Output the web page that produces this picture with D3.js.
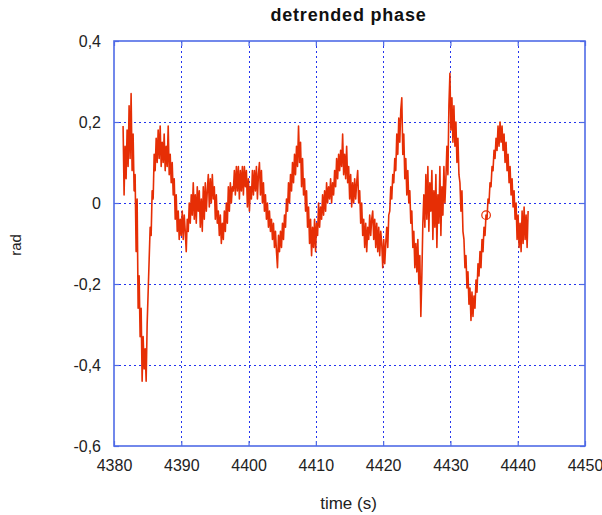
<!DOCTYPE html>
<html>
<head>
<meta charset="utf-8">
<script src="https://cdn.jsdelivr.net/npm/d3@7"></script>
<style>
  html, body { margin: 0; padding: 0; background: #fff; }
  svg { display: block; }
  text { font-family: "Liberation Sans", Arial, sans-serif; }
</style>
</head>
<body>
<svg id="chart" width="602" height="515"></svg>
<script>
// Sampling grid of the phase trace
const t0 = 4381.35;
const dt = 0.149;

// Detrended phase samples (rad)
const phase = [
  0.19, 0.02, 0.14, 0.06, 0.18, 0.09, 0.24, 0.11, 0.27, 0.08,
  0.17, 0.03, 0.07, -0.12, 0.01, -0.26, -0.18, -0.33, -0.26, -0.44,
  -0.33, -0.41, -0.36, -0.44, -0.30, -0.22, -0.14, -0.06, -0.08, 0.03,
  0.01, 0.12, 0.08, 0.16, 0.10, 0.18, 0.11, 0.19, 0.09, 0.15,
  0.10, 0.17, 0.08, 0.14, 0.09, 0.19, 0.07, 0.12, 0.05, 0.10,
  0.02, 0.06, -0.04, 0.02, -0.07, -0.02, -0.09, -0.04, -0.08, -0.02,
  -0.09, -0.03, -0.07, -0.12, -0.04, -0.07, 0.00, -0.05, 0.02, -0.03,
  0.05, -0.04, 0.02, -0.05, 0.04, -0.02, 0.03, -0.06, 0.01, -0.07,
  0.04, -0.04, 0.05, -0.02, 0.03, 0.07, -0.01, 0.06, 0.00, 0.07,
  0.01, 0.04, -0.04, 0.02, -0.05, -0.02, -0.08, -0.03, -0.10, -0.05,
  -0.09, -0.02, -0.07, 0.00, -0.05, 0.04, -0.02, 0.05, 0.00, 0.04,
  0.03, 0.08, 0.02, 0.09, 0.03, 0.09, 0.01, 0.08, 0.03, 0.09,
  0.02, 0.09, 0.04, 0.08, -0.01, 0.06, -0.02, 0.04, 0.01, 0.08,
  0.02, 0.08, 0.03, 0.09, 0.01, 0.07, 0.10, 0.02, 0.08, 0.00,
  0.05, -0.02, 0.02, -0.04, 0.00, -0.06, -0.02, -0.07, -0.04, -0.09,
  -0.05, -0.11, -0.07, -0.12, -0.16, -0.08, -0.12, -0.07, -0.11, -0.05,
  -0.09, -0.03, -0.06, 0.01, -0.02, 0.05, 0.00, 0.07, 0.03, 0.10,
  0.05, 0.12, 0.07, 0.14, 0.09, 0.19, 0.10, 0.15, 0.04, 0.11,
  0.02, 0.06, -0.02, 0.03, -0.06, -0.01, -0.10, -0.04, -0.13, -0.06,
  -0.11, -0.04, -0.12, -0.05, -0.08, 0.00, -0.06, -0.01, -0.04, 0.02,
  -0.03, 0.03, -0.02, 0.05, 0.00, 0.04, 0.01, 0.06, 0.00, 0.05,
  0.02, 0.08, 0.04, 0.11, 0.06, 0.12, 0.08, 0.13, 0.09, 0.17,
  0.07, 0.12, 0.06, 0.14, 0.05, 0.09, 0.01, 0.07, -0.01, 0.05,
  0.00, 0.06, 0.01, 0.05, 0.08, 0.00, 0.03, -0.05, 0.00, -0.08,
  -0.04, -0.11, -0.05, -0.12, -0.06, -0.09, -0.03, -0.08, -0.04, -0.02,
  -0.09, -0.04, -0.11, -0.05, -0.12, -0.06, -0.13, -0.07, -0.10, -0.16,
  -0.09, -0.15, -0.10, -0.06, -0.11, -0.03, -0.02, 0.04, 0.01, 0.07,
  0.05, 0.11, 0.08, 0.17, 0.12, 0.21, 0.15, 0.23, 0.26, 0.12,
  0.17, 0.06, 0.11, 0.02, 0.08, 0.00, 0.03, -0.05, -0.02, -0.11,
  -0.07, -0.16, -0.10, -0.17, -0.09, -0.20, -0.13, -0.28, -0.18, -0.05,
  0.02, -0.06, 0.07, -0.04, 0.09, -0.07, 0.05, -0.02, 0.08, -0.09,
  0.03, -0.06, 0.07, -0.11, 0.02, -0.05, 0.09, -0.08, 0.04, -0.03,
  0.09, 0.00, 0.06, 0.14, 0.07, 0.24, 0.32, 0.18, 0.26, 0.15,
  0.24, 0.14, 0.20, 0.10, 0.16, 0.07, 0.05, -0.02, 0.03, -0.07,
  -0.09, -0.16, -0.13, -0.21, -0.17, -0.25, -0.21, -0.29, -0.22, -0.28,
  -0.23, -0.26, -0.19, -0.22, -0.15, -0.18, -0.12, -0.16, -0.09, -0.12,
  -0.06, -0.08, -0.03, -0.04, 0.01, 0.00, 0.05, 0.04, 0.09, 0.08,
  0.13, 0.11, 0.16, 0.13, 0.19, 0.14, 0.20, 0.15, 0.19, 0.13,
  0.17, 0.10, 0.15, 0.08, 0.12, 0.05, 0.09, 0.02, 0.06, -0.01,
  0.03, -0.04, 0.00, -0.09, -0.03, -0.11, -0.05, -0.12, -0.02, -0.10,
  -0.01, -0.09, -0.03, -0.11, -0.02
];

// Highlighted sample
const markerTime = [4435.3];
const markerPhase = [-0.03];

// Axis ticks
const xTicks = [4380, 4390, 4400, 4410, 4420, 4430, 4440, 4450];
const yTicks = [-0.6, -0.4, -0.2, 0, 0.2, 0.4];

const title = "detrended phase";
const xLabel = "time (s)";
const yLabel = "rad";

const series = phase.map((v, i) => ({ t: t0 + i * dt, v }));

const svg = d3.select("#chart");
const plot = { left: 114, top: 41, right: 585, bottom: 446 };

const x = d3.scaleLinear().domain([4380, 4450]).range([plot.left, plot.right]);
const y = d3.scaleLinear().domain([-0.6, 0.4]).range([plot.bottom, plot.top]);

svg.append("rect").attr("width", 602).attr("height", 515).attr("fill", "#fff");

const gridColor = "#2233ee";
const frameColor = "#4f6be6";
const lineColor = "#e62e05";

// Dotted grid
const grid = svg.append("g");
grid.selectAll("line.gx").data(xTicks.slice(1, -1)).join("line")
  .attr("x1", d => Math.round(x(d)) + 0.5).attr("x2", d => Math.round(x(d)) + 0.5)
  .attr("y1", plot.top).attr("y2", plot.bottom)
  .attr("stroke", gridColor).attr("stroke-width", 1).attr("stroke-dasharray", "2,3");
grid.selectAll("line.gy").data(yTicks.slice(1, -1)).join("line")
  .attr("x1", plot.left).attr("x2", plot.right)
  .attr("y1", d => Math.round(y(d)) + 0.5).attr("y2", d => Math.round(y(d)) + 0.5)
  .attr("stroke", gridColor).attr("stroke-width", 1).attr("stroke-dasharray", "2,3");

// Axes with inward ticks; decimal comma and a plain hyphen for negatives
const fmt = d => d === 0 ? "0" : d3.format(".1f")(d).replace(".", ",").replace("\u2212", "-");

const xAxis = svg.append("g").attr("transform", `translate(0,${plot.bottom})`)
  .call(d3.axisBottom(x).tickValues(xTicks).tickSize(-5).tickPadding(14).tickFormat(d3.format("d")));
const xAxisTop = svg.append("g").attr("transform", `translate(0,${plot.top})`)
  .call(d3.axisTop(x).tickValues(xTicks).tickSize(-5).tickFormat(""));
const yAxis = svg.append("g").attr("transform", `translate(${plot.left},0)`)
  .call(d3.axisLeft(y).tickValues(yTicks).tickSize(-5).tickPadding(13).tickFormat(fmt));
const yAxisRight = svg.append("g").attr("transform", `translate(${plot.right},0)`)
  .call(d3.axisRight(y).tickValues(yTicks).tickSize(-5).tickFormat(""));

[xAxis, xAxisTop, yAxis, yAxisRight].forEach(g => {
  g.select(".domain").remove();
  g.selectAll(".tick line").attr("stroke", frameColor).attr("stroke-width", 1.2);
  g.selectAll(".tick text").attr("fill", "#222").attr("font-size", 16);
});

// Frame
svg.append("rect")
  .attr("x", plot.left).attr("y", plot.top)
  .attr("width", plot.right - plot.left).attr("height", plot.bottom - plot.top)
  .attr("fill", "none").attr("stroke", frameColor).attr("stroke-width", 1.6);

// Phase trace
svg.append("path")
  .datum(series)
  .attr("fill", "none")
  .attr("stroke", lineColor)
  .attr("stroke-width", 1.6)
  .attr("stroke-linejoin", "round")
  .attr("d", d3.line().x(d => x(d.t)).y(d => y(d.v)));

// Open marker
svg.selectAll("circle.marker").data(markerTime.map((t, i) => ({ t, v: markerPhase[i] })))
  .join("circle")
  .attr("cx", d => x(d.t)).attr("cy", d => y(d.v)).attr("r", 4.3)
  .attr("fill", "none").attr("stroke", lineColor).attr("stroke-width", 1.2);

// Titles
svg.append("text").attr("x", 348.5).attr("y", 21)
  .attr("text-anchor", "middle").attr("font-size", 18).attr("font-weight", "bold")
  .attr("letter-spacing", 0.8).attr("fill", "#111").text(title);
svg.append("text").attr("x", 348.5).attr("y", 509)
  .attr("text-anchor", "middle").attr("font-size", 17).attr("fill", "#222").text(xLabel);
svg.append("text").attr("transform", "translate(21,245) rotate(-90)")
  .attr("text-anchor", "middle").attr("font-size", 15).attr("fill", "#222").text(yLabel);
</script>
</body>
</html>
